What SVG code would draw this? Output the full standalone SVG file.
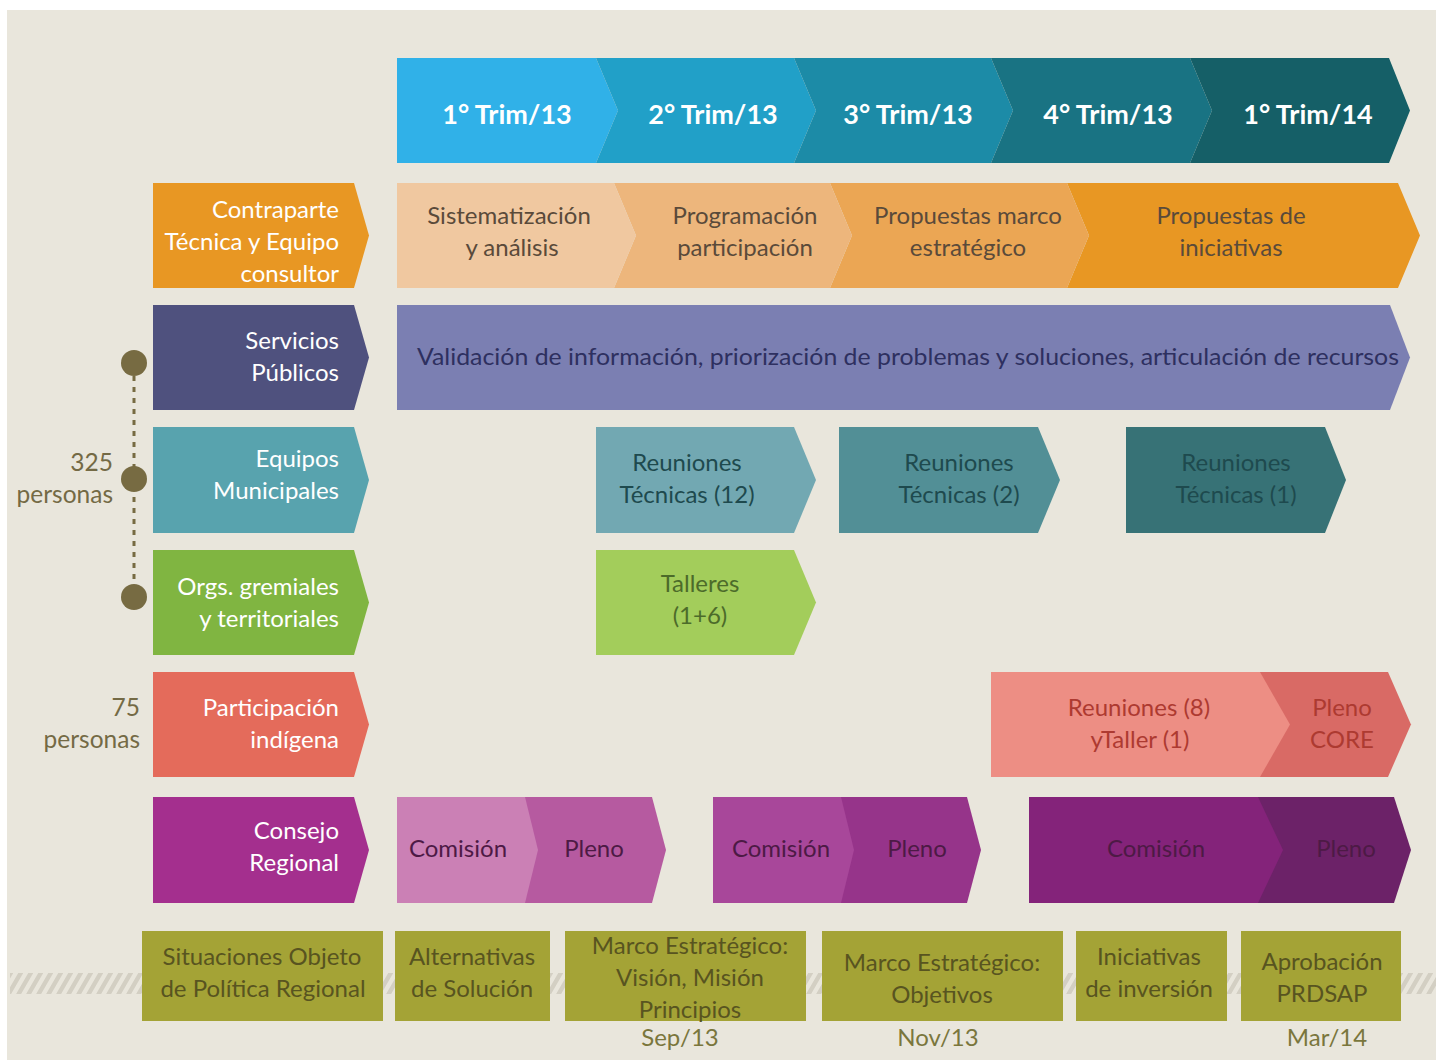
<svg xmlns="http://www.w3.org/2000/svg" width="1436" height="1062" viewBox="0 0 1436 1062">
<defs>
<style>
text{font-family:Lato,"Liberation Sans",sans-serif;font-size:24px}
.hd{font-weight:bold;font-size:27px;fill:#ffffff;text-anchor:middle}
.lb{fill:#ffffff;text-anchor:end}
.c{text-anchor:middle}
.r1{fill:#5a4a3a}
.r2{fill:#2e3060}
.r3{fill:#1e4a4e}
.r4{fill:#4c6b2a}
.r5{fill:#ad3a31}
.r6{fill:#4d1a45}
.bt{fill:#585420}
.dt{fill:#7a763c}
.ps{fill:#746a45;text-anchor:end;font-size:24.5px}
.box{fill:#a4a336}
</style>
<pattern id="hatch" width="10" height="22" patternUnits="userSpaceOnUse" patternTransform="skewX(-30)">
<rect x="0" y="0" width="5" height="22" fill="#d3cfc3"/>
</pattern>
</defs>
<rect x="0" y="0" width="1436" height="1062" fill="#ffffff"/>
<rect x="7" y="10" width="1429" height="1050" fill="#e9e6dc"/>
<rect x="10" y="973" width="1426" height="21" fill="url(#hatch)"/>

<g id="header">
<polygon points="397,58 596,58 618,110.5 596,163 397,163" fill="#30b1e8"/>
<polygon points="596,58 794,58 816,110.5 794,163 596,163 618,110.5" fill="#21a0c8"/>
<polygon points="794,58 991,58 1013,110.5 991,163 794,163 816,110.5" fill="#1c8ba7"/>
<polygon points="991,58 1190,58 1212,110.5 1190,163 991,163 1013,110.5" fill="#197383"/>
<polygon points="1190,58 1389,58 1410,110.5 1389,163 1190,163 1212,110.5" fill="#155f67"/>
<text class="hd" x="507" y="124">1° Trim/13</text>
<text class="hd" x="713" y="124">2° Trim/13</text>
<text class="hd" x="908" y="124">3° Trim/13</text>
<text class="hd" x="1108" y="124">4° Trim/13</text>
<text class="hd" x="1308" y="124">1° Trim/14</text>
</g>

<g id="label-contraparte">
<polygon points="153,183 354,183 369,235.5 354,288 153,288" fill="#e89723"/>
<text class="lb" x="339" y="218">Contraparte</text>
<text class="lb" x="339" y="250">Técnica y Equipo</text>
<text class="lb" x="339" y="282">consultor</text>
</g>
<g id="label-servicios">
<polygon points="153,305 354,305 369,357.5 354,410 153,410" fill="#4f517e"/>
<text class="lb" x="339" y="349">Servicios</text>
<text class="lb" x="339" y="381">Públicos</text>
</g>
<g id="label-equipos">
<polygon points="153,427 354,427 369,480 354,533 153,533" fill="#58a3ae"/>
<text class="lb" x="339" y="467">Equipos</text>
<text class="lb" x="339" y="499">Municipales</text>
</g>
<g id="label-orgs">
<polygon points="153,550 354,550 369,602.5 354,655 153,655" fill="#80b541"/>
<text class="lb" x="339" y="595">Orgs. gremiales</text>
<text class="lb" x="339" y="627">y territoriales</text>
</g>
<g id="label-indigena">
<polygon points="153,672 354,672 369,724.5 354,777 153,777" fill="#e46b5b"/>
<text class="lb" x="339" y="716">Participación</text>
<text class="lb" x="339" y="748">indígena</text>
</g>
<g id="label-consejo">
<polygon points="153,797 354,797 369,850 354,903 153,903" fill="#a42f8e"/>
<text class="lb" x="339" y="839">Consejo</text>
<text class="lb" x="339" y="871">Regional</text>
</g>

<g id="row1">
<polygon points="1067,183 1398,183 1420,235.5 1398,288 1067,288 1089,235.5" fill="#e89723"/>
<polygon points="830,183 1067,183 1089,235.5 1067,288 830,288 852,235.5" fill="#eba654"/>
<polygon points="614,183 830,183 852,235.5 830,288 614,288 636,235.5" fill="#edb67c"/>
<polygon points="397,183 614,183 636,235.5 614,288 397,288" fill="#f0c8a0"/>
<text class="c r1" x="509" y="224">Sistematización</text>
<text class="c r1" x="512" y="256">y análisis</text>
<text class="c r1" x="745" y="224">Programación</text>
<text class="c r1" x="745" y="256">participación</text>
<text class="c r1" x="968" y="224">Propuestas marco</text>
<text class="c r1" x="968" y="256">estratégico</text>
<text class="c r1" x="1231" y="224">Propuestas de</text>
<text class="c r1" x="1231" y="256">iniciativas</text>
</g>

<g id="row2">
<polygon points="397,305 1390,305 1410,357.5 1390,410 397,410" fill="#7b7fb2"/>
<text class="r2" x="417" y="365" textLength="982" lengthAdjust="spacingAndGlyphs">Validación de información, priorización de problemas y soluciones, articulación de recursos</text>
</g>

<g id="row3">
<polygon points="596,427 794,427 816,480 794,533 596,533" fill="#72a8b2"/>
<text class="c r3" x="687" y="471">Reuniones</text>
<text class="c r3" x="687" y="503">Técnicas (12)</text>
<polygon points="839,427 1038,427 1060,480 1038,533 839,533" fill="#528f96"/>
<text class="c r3" x="959" y="471">Reuniones</text>
<text class="c r3" x="959" y="503">Técnicas (2)</text>
<polygon points="1126,427 1325,427 1346,480 1325,533 1126,533" fill="#377276"/>
<text class="c r3" x="1236" y="471">Reuniones</text>
<text class="c r3" x="1236" y="503">Técnicas (1)</text>
</g>

<g id="row4">
<polygon points="596,550 794,550 816,602.5 794,655 596,655" fill="#a3cd5b"/>
<text class="c r4" x="700" y="592">Talleres</text>
<text class="c r4" x="700" y="624">(1+6)</text>
</g>

<g id="row5">
<polygon points="1260,672 1388,672 1411,724.5 1388,777 1260,777" fill="#d96a65"/>
<polygon points="991,672 1260,672 1290,724.5 1260,777 991,777" fill="#ed8e84"/>
<text class="c r5" x="1139" y="716">Reuniones (8)</text>
<text class="c r5" x="1140" y="748">yTaller (1)</text>
<text class="c r5" x="1342" y="716">Pleno</text>
<text class="c r5" x="1342" y="748">CORE</text>
</g>

<g id="row6">
<polygon points="525,797 652,797 666,850 652,903 525,903" fill="#b65aa0"/>
<polygon points="397,797 525,797 538,850 525,903 397,903" fill="#cb80b5"/>
<polygon points="841,797 967,797 981,850 967,903 841,903" fill="#96348a"/>
<polygon points="713,797 841,797 854,850 841,903 713,903" fill="#a8479a"/>
<polygon points="1258,797 1394,797 1411,850 1394,903 1258,903" fill="#6c2268"/>
<polygon points="1029,797 1258,797 1283,850 1258,903 1029,903" fill="#84237a"/>
<text class="c r6" x="458" y="857">Comisión</text>
<text class="c r6" x="594" y="857">Pleno</text>
<text class="c r6" x="781" y="857">Comisión</text>
<text class="c r6" x="917" y="857">Pleno</text>
<text class="c r6" x="1156" y="857">Comisión</text>
<text class="c r6" x="1346" y="857">Pleno</text>
</g>

<g id="bottom-situaciones">
<rect class="box" x="142" y="931" width="241" height="90"/>
<text class="c bt" x="262" y="965">Situaciones Objeto</text>
<text class="c bt" x="263" y="997">de Política Regional</text>
</g>
<g id="bottom-alternativas">
<rect class="box" x="395" y="931" width="155" height="90"/>
<text class="c bt" x="472" y="965">Alternativas</text>
<text class="c bt" x="472" y="997">de Solución</text>
</g>
<g id="bottom-vision">
<rect class="box" x="565" y="931" width="241" height="90"/>
<text class="c bt" x="690" y="954">Marco Estratégico:</text>
<text class="c bt" x="690" y="986">Visión, Misión</text>
<text class="c bt" x="690" y="1018">Principios</text>
</g>
<g id="bottom-objetivos">
<rect class="box" x="822" y="931" width="241" height="90"/>
<text class="c bt" x="942" y="971">Marco Estratégico:</text>
<text class="c bt" x="942" y="1003">Objetivos</text>
</g>
<g id="bottom-iniciativas">
<rect class="box" x="1076" y="931" width="151" height="90"/>
<text class="c bt" x="1149" y="965">Iniciativas</text>
<text class="c bt" x="1149" y="997">de inversión</text>
</g>
<g id="bottom-aprobacion">
<rect class="box" x="1241" y="931" width="160" height="90"/>
<text class="c bt" x="1322" y="970">Aprobación</text>
<text class="c bt" x="1322" y="1002">PRDSAP</text>
</g>
<g id="dates">
<text class="c dt" x="680" y="1046">Sep/13</text>
<text class="c dt" x="938" y="1046">Nov/13</text>
<text class="c dt" x="1327" y="1046">Mar/14</text>
</g>

<g id="connectors">
<line x1="134" y1="376" x2="134" y2="586" stroke="#776b42" stroke-width="3" stroke-dasharray="5,6"/>
</g>
<g id="dots">
<circle cx="134" cy="363" r="13" fill="#776b42"/>
<circle cx="134" cy="479" r="13" fill="#776b42"/>
<circle cx="134" cy="597" r="13" fill="#776b42"/>
</g>
<g id="persons">
<text class="ps" x="113" y="471">325</text>
<text class="ps" x="113" y="503">personas</text>
<text class="ps" x="140" y="716">75</text>
<text class="ps" x="140" y="748">personas</text>
</g>
</svg>
